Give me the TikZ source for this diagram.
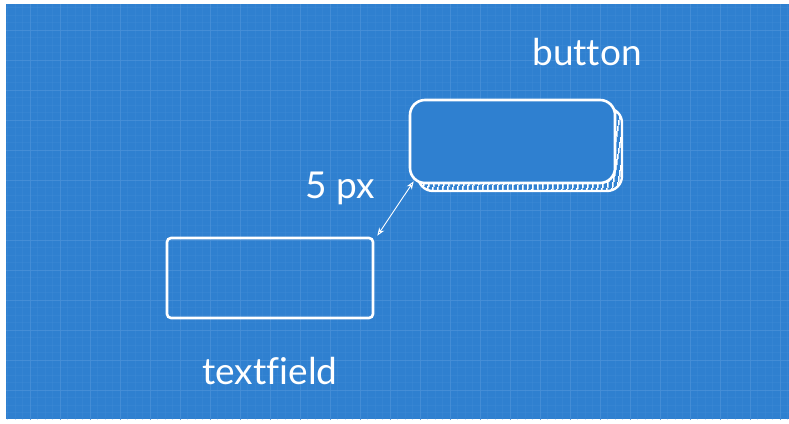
\documentclass[tikz,border=0pt]{standalone}
\usepackage{fontspec}
\setmainfont{Lato}[Ligatures=NoCommon]
\usetikzlibrary{patterns.meta,arrows.meta}
\definecolor{bp}{HTML}{2F80D0}
\definecolor{gridc}{HTML}{4890D8}
\tikzset{
  box/.style={draw=white, line width=2.6pt, rectangle, inner sep=0pt},
  lbl/.style={text=white, font=\fontsize{37}{44}\selectfont, inner sep=0pt},
  minorg/.style={gridc, line width=0.4pt, opacity=0.25},
  majorg/.style={gridc, line width=1pt, opacity=0.8},
}
\begin{document}
\begin{tikzpicture}[x=1pt,y=-1pt]
\useasboundingbox (0,0) rectangle (789,423);
\fill[white] (0,0) rectangle (789,423);
\fill[bp] (6,4) rectangle (789,419);
\begin{scope}
\clip (6,4) rectangle (789,419);
\foreach \i in {0,...,105} {
  \draw[minorg] ({\i*7.5},0) -- ({\i*7.5},423);
}
\foreach \i in {0,...,57} {
  \draw[minorg] (0,{\i*7.5}) -- (789,{\i*7.5});
}
\foreach \i in {0,...,27} {
  \draw[majorg] ({\i*30},0) -- ({\i*30},423);
}
\foreach \i in {0,...,14} {
  \draw[majorg] (0,{\i*30}) -- (789,{\i*30});
}
\end{scope}
% button 3D back
\draw[white, line width=2.4pt, rounded corners=15pt, pattern={Lines[angle=80,distance=4pt,line width=1.5pt]}, pattern color=white] (418,108) rectangle (622,191);
\node[box, rounded corners=15pt, fill=bp, minimum width=205pt, minimum height=83pt] (btn) at (512.5,141.5) {};
% textfield
\node[box, rounded corners=4pt, minimum width=206pt, minimum height=80pt] (tf) at (270,278) {};
% labels
\node[lbl] (btnl) at (587,52) {button};
\node[lbl] (tfl) at (270,371) {textfield};
\node[lbl] (px) at (340,188) {5 px};
% dimension arrow
\draw[white, line width=0.9pt, {Stealth[length=8pt,width=6pt,open]}-{Stealth[length=8pt,width=6pt,open]}] ([xshift=3pt,yshift=1pt]tf.north east) -- ([xshift=5pt,yshift=3pt]btn.south west);
\end{tikzpicture}
\end{document}
